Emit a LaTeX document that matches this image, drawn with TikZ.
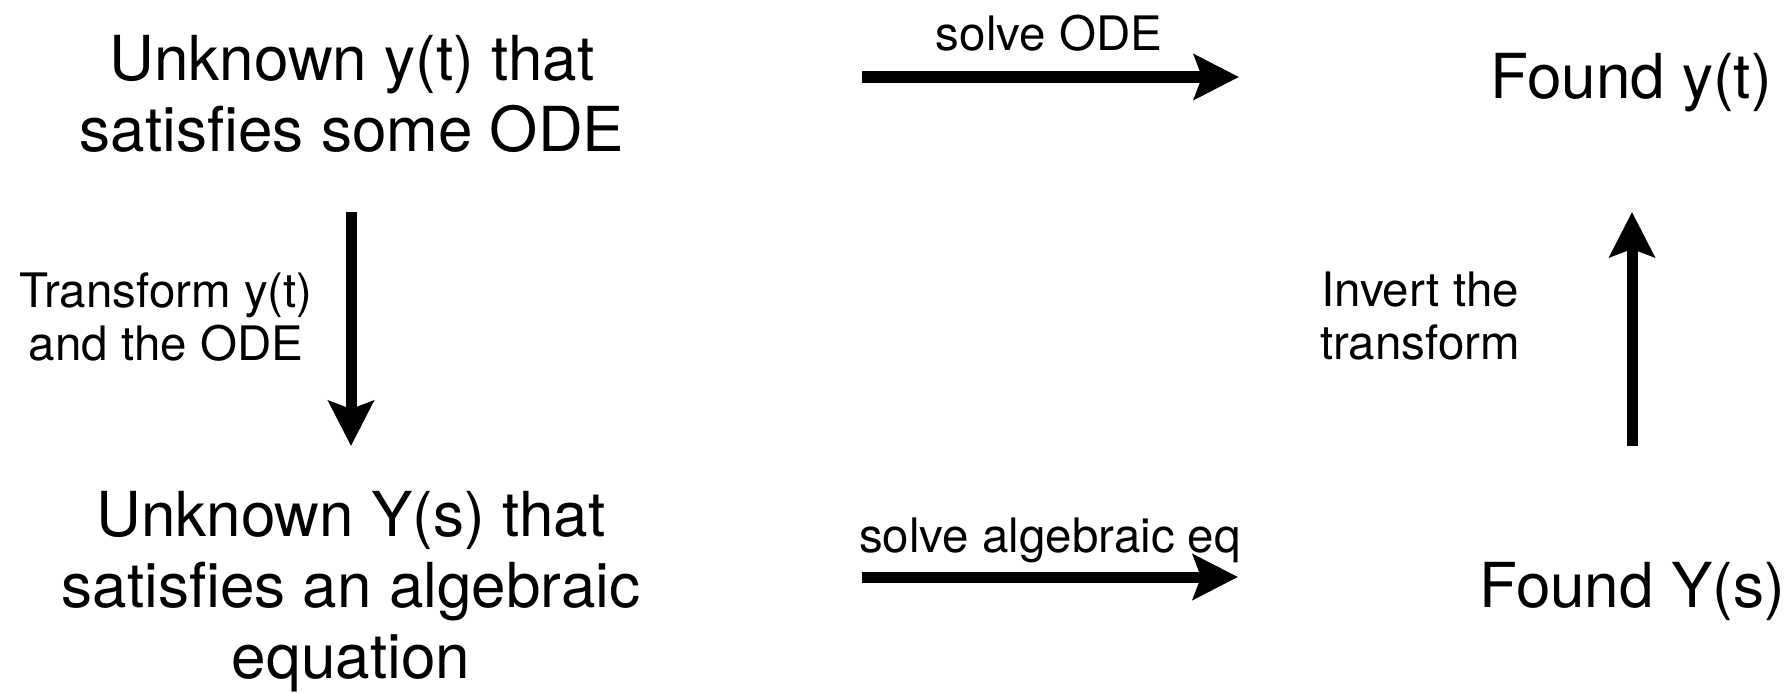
\documentclass[tikz,border=0pt]{standalone}
\usepackage{fontspec}
\setmainfont{TeX Gyre Heros}
\usetikzlibrary{arrows.meta}
\begin{document}
\begin{tikzpicture}[x=1pt,y=-1pt,
  bigtext/.style={align=center,inner sep=0pt,font=\fontsize{62}{71}\selectfont},
  smalltext/.style={align=center,inner sep=0pt,font=\fontsize{47.5}{53}\selectfont},
  bigarrow/.style={line width=11pt,-{Stealth[length=45pt,width=45pt,inset=8pt]}}]
\useasboundingbox (0,0) rectangle (1785,693);
\node[bigtext] (ode) at (352,94) {Unknown y(t) that\\satisfies some ODE};
\node[bigtext] (alg) at (351,592) {Unknown Y(s) that\\satisfies an algebraic\\equation};
\node[bigtext,anchor=base] (fy) at (1631,99) {Found y(t)};
\node[bigtext,anchor=base] (fY) at (1632,607) {Found Y(s)};
\node[smalltext,anchor=base] (lsode) at (1049,51) {solve ODE};
\node[smalltext,anchor=base] (lsalg) at (1050,552) {solve algebraic eq};
\node[smalltext] (ltr) at (166,317) {Transform y(t)\\and the ODE};
\node[smalltext] (linv) at (1420,316) {Invert the\\transform};
\coordinate (t1) at (862,77);
\coordinate (t2) at (1239,77);
\coordinate (b1) at (862,577);
\coordinate (b2) at (1238,577);
\coordinate (d1) at (351,212);
\coordinate (d2) at (351,446);
\coordinate (u1) at (1632,446);
\coordinate (u2) at (1632,212);
\draw[bigarrow] (t1) -- (t2);
\draw[bigarrow] (b1) -- (b2);
\draw[bigarrow] (d1) -- (d2);
\draw[bigarrow] (u1) -- (u2);
\end{tikzpicture}
\end{document}
